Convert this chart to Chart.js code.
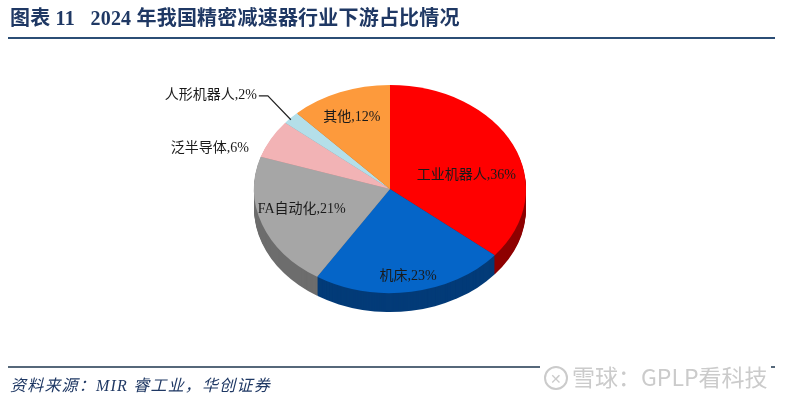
<!DOCTYPE html>
<html lang="zh">
<head>
<meta charset="UTF-8">
<title>2024 年我国精密减速器行业下游占比情况</title>
<script src="https://cdn.jsdelivr.net/npm/chart.js"></script>
<style>
    body { margin: 0; background: #fff; width: 792px; height: 399px; overflow: hidden; position: relative; }
    #chart-box { position: absolute; left: 0; top: 0; width: 792px; height: 399px; }
    .title {
        position: absolute; left: 10px; top: 2px; font-size: 20px; font-weight: bold; letter-spacing: 0.2px;
        color: #1f3864; font-family: "Liberation Serif", "Noto Sans CJK SC", serif; white-space: pre;
    }
    .rule-top { position: absolute; left: 8px; top: 37px; width: 767px; height: 2px; background: #2b4d75; }
    .rule-bottom { position: absolute; left: 8px; top: 366px; width: 767px; height: 2px; background: #56687a; }
    .source {
        position: absolute; left: 10px; top: 372px; font-size: 16px; font-style: italic; letter-spacing: 1.2px;
        color: #1f3864; font-family: "Liberation Serif", "Noto Sans CJK SC", serif;
    }
    .mark {
        position: absolute; left: 540px; top: 362px; font-size: 23px; color: #cbcbcb;
        font-family: "Noto Sans CJK SC", sans-serif; background: #fff; padding: 0 4px;
        line-height: 28px;
    }
    .mark .logo {
        display: inline-block; width: 20px; height: 20px; border: 2px solid #cbcbcb; border-radius: 50%;
        font-size: 14px; line-height: 20px; text-align: center; vertical-align: 2px; margin-right: 4px;
    }
</style>
</head>
<body>
<div id="chart-box"><canvas id="pie"></canvas></div>
<div class="title">图表 11   2024 年我国精密减速器行业下游占比情况</div>
<div class="rule-top"></div>
<div class="rule-bottom"></div>
<div class="source">资料来源：MIR 睿工业，华创证券</div>
<div class="mark"><span class="logo">✕</span>雪球：GPLP看科技</div>

<script>
// data
const categories = ['工业机器人', '机床', 'FA自动化', '泛半导体', '人形机器人', '其他'];
const shares = [36, 23, 21, 6, 2, 12];
const topColors = ['#ff0000', '#0565c8', '#a6a6a6', '#f2b3b5', '#b4dfe9', '#fd9a3c'];
const sideColors = ['#8e0000', '#033b78', '#6d6d6d', '#a87d7e', '#7c9aa2', '#b06a28'];

// pie is drawn squashed to look tilted, with a darker side wall
const tilt = 0.765;
const depth = 19;

// label placement: radial fraction (inside) or outside with leader
const labelRadius = [0.62, 0.85, 0.69, 1, 1, 0.76];
const labelNudge = [14, 0, -4, 0, 0, 2];

const tiltPlugin = {
    id: 'tilt',
    beforeDatasetsDraw(chart) {
        const ctx = chart.ctx;
        const arcs = chart.getDatasetMeta(0).data;
        const cx = arcs[0].x, cy = arcs[0].y;
        ctx.save();
        ctx.translate(cx, cy);
        ctx.scale(1, tilt);
        ctx.translate(-cx, -cy);
        // side wall: stack of darker sectors below the top face
        for (let d = depth; d >= 1; d--) {
            arcs.forEach((a, i) => {
                ctx.beginPath();
                ctx.moveTo(a.x, a.y + d / tilt);
                ctx.arc(a.x, a.y + d / tilt, a.outerRadius, a.startAngle, a.endAngle);
                ctx.closePath();
                ctx.fillStyle = sideColors[i];
                ctx.fill();
            });
        }
    },
    afterDatasetsDraw(chart) {
        chart.ctx.restore();
    },
    afterDraw(chart) {
        const ctx = chart.ctx;
        const arcs = chart.getDatasetMeta(0).data;
        ctx.save();
        ctx.font = '14px "Liberation Serif", "Noto Sans CJK SC", serif';
        ctx.fillStyle = '#1a1a1a';
        ctx.textBaseline = 'middle';
        arcs.forEach((a, i) => {
            const mid = (a.startAngle + a.endAngle) / 2;
            const text = categories[i] + ',' + shares[i] + '%';
            const ex = a.x + Math.cos(mid) * a.outerRadius * labelRadius[i];
            const ey = a.y + Math.sin(mid) * a.outerRadius * labelRadius[i] * tilt;
            if (labelRadius[i] < 1) {
                ctx.textAlign = 'center';
                ctx.fillText(text, ex, ey + labelNudge[i]);
            } else if (shares[i] >= 5) {
                ctx.textAlign = 'right';
                ctx.fillText(text, ex - 22, ey + 9);
            } else {
                // small slice: leader line up and left
                ctx.strokeStyle = '#222';
                ctx.lineWidth = 1.2;
                ctx.beginPath();
                ctx.moveTo(ex, ey + 2);
                ctx.lineTo(ex - 23, ey - 22);
                ctx.lineTo(ex - 32, ey - 22);
                ctx.stroke();
                ctx.textAlign = 'right';
                ctx.fillText(text, ex - 34, ey - 22);
            }
        });
        ctx.restore();
    }
};

new Chart(document.getElementById('pie'), {
    type: 'pie',
    data: {
        labels: categories,
        datasets: [{
            data: shares,
            backgroundColor: topColors,
            borderWidth: 0
        }]
    },
    options: {
        responsive: true,
        maintainAspectRatio: false,
        animation: false,
        layout: { padding: { left: 254, right: 266, top: 53, bottom: 74 } },
        plugins: {
            legend: { display: false },
            tooltip: { enabled: false }
        }
    },
    plugins: [tiltPlugin]
});
</script>
</body>
</html>
